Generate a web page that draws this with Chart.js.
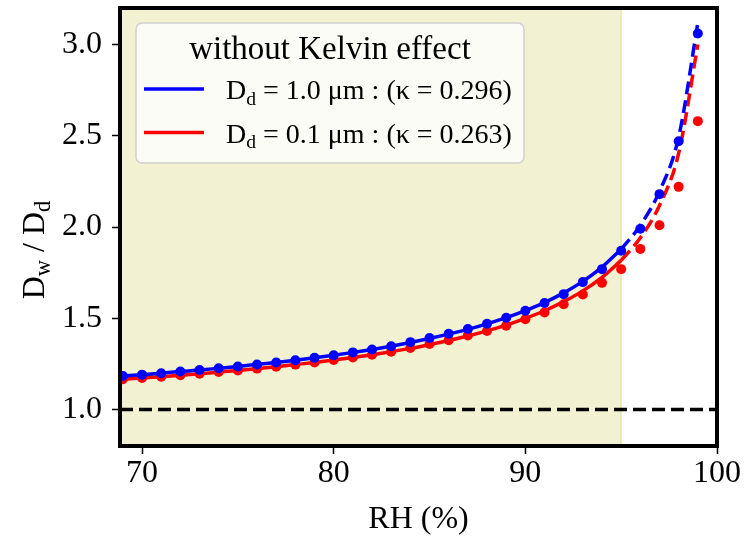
<!DOCTYPE html>
<html>
<head>
<meta charset="utf-8">
<script src="https://cdn.jsdelivr.net/npm/chart.js@4.4.1/dist/chart.umd.min.js"></script>
<style>
  html, body { margin: 0; padding: 0; background: #fff; }
  #wrap { width: 746px; height: 543px; }
</style>
</head>
<body>
<div id="wrap"><canvas id="chart" width="746" height="543"></canvas></div>
<script>
// relative humidity (%)
const rh = [69, 70, 71, 72, 73, 74, 75, 76, 77, 78, 79, 80, 81, 82, 83, 84,
            85, 86, 87, 88, 89, 90, 91, 92, 93, 94, 95, 96, 97, 98, 99];

// Dd = 1.0 um, kappa = 0.296 : curve and dots
const blueCurve = [1.184, 1.191, 1.199, 1.208, 1.216, 1.226, 1.236, 1.247, 1.258, 1.270, 1.283,
                   1.297, 1.313, 1.329, 1.347, 1.367, 1.389, 1.413, 1.439, 1.469, 1.503, 1.542,
                   1.586, 1.639, 1.702, 1.780, 1.878, 2.009, 2.195, 2.493, 3.118];
const blueDots  = [1.184, 1.191, 1.199, 1.208, 1.216, 1.226, 1.236, 1.247, 1.258, 1.270, 1.283,
                   1.297, 1.313, 1.329, 1.347, 1.369, 1.392, 1.415, 1.441, 1.470, 1.503, 1.541,
                   1.584, 1.632, 1.698, 1.769, 1.870, 1.990, 2.180, 2.470, 3.060];

// Dd = 0.1 um, kappa = 0.263
const redCurve = [1.166, 1.173, 1.180, 1.188, 1.196, 1.205, 1.214, 1.224, 1.234, 1.246, 1.258,
                  1.271, 1.285, 1.300, 1.317, 1.335, 1.355, 1.378, 1.403, 1.431, 1.462, 1.499,
                  1.541, 1.591, 1.650, 1.724, 1.817, 1.941, 2.118, 2.404, 3.000];
const redDots  = [1.166, 1.173, 1.180, 1.188, 1.196, 1.205, 1.214, 1.224, 1.234, 1.246, 1.258,
                  1.271, 1.285, 1.300, 1.317, 1.337, 1.359, 1.380, 1.405, 1.430, 1.459, 1.495,
                  1.532, 1.577, 1.630, 1.694, 1.769, 1.880, 2.010, 2.220, 2.580];

const xTicks = [70, 80, 90, 100];
const yTicks = [1.0, 1.5, 2.0, 2.5, 3.0];
const xMin = 68.85, xMax = 100;
const yMin = 0.8, yMax = 3.2;
const shadeEnd = 95;      // shaded RH band ends here
const refRatio = 1.0;     // Dw/Dd = 1 reference line

const legendTitle = 'without Kelvin effect';
const legendRows = [
  { main: 'D', sub: 'd', rest: ' = 1.0 \u03bcm : (\u03ba = 0.296)', color: '#0000ff' },
  { main: 'D', sub: 'd', rest: ' = 0.1 \u03bcm : (\u03ba = 0.263)', color: '#ff0000' }
];

const FONT = "'Liberation Serif', 'Times New Roman', serif";
const BLUE = '#0000ff', RED = '#ff0000';
const TICK_SIZE = 32;

const toXY = (xs, ys) => xs.map((v, i) => ({ x: v, y: ys[i] }));
const cut = rh.indexOf(shadeEnd);

// draw text with subscripts: parts = [[text, isSub], ...]
function drawRich(ctx, parts, x, y, size) {
  let cx = x;
  parts.forEach(([t, sub]) => {
    ctx.font = (sub ? size * 0.7 : size) + 'px ' + FONT;
    ctx.fillText(t, cx, sub ? y + size * 0.2 : y);
    cx += ctx.measureText(t).width;
  });
  return cx - x;
}
function richWidth(ctx, parts, size) {
  let w = 0;
  parts.forEach(([t, sub]) => {
    ctx.font = (sub ? size * 0.7 : size) + 'px ' + FONT;
    w += ctx.measureText(t).width;
  });
  return w;
}

const decor = {
  id: 'decor',
  beforeDatasetsDraw(chart) {
    const { ctx, chartArea: a, scales: { x } } = chart;
    const xe = x.getPixelForValue(shadeEnd);
    ctx.save();
    ctx.fillStyle = 'rgba(188,189,34,0.2)';
    ctx.fillRect(a.left, a.top, xe - a.left, a.bottom - a.top);
    ctx.strokeStyle = 'rgba(188,189,34,0.3)';
    ctx.lineWidth = 1.5;
    ctx.beginPath();
    ctx.moveTo(xe, a.top);
    ctx.lineTo(xe, a.bottom);
    ctx.stroke();
    ctx.restore();
  },
  afterDraw(chart) {
    const { ctx, chartArea: a } = chart;
    ctx.save();

    // legend box
    const bx = 136, by = 23, bw = 388, bh = 140, r = 6;
    ctx.beginPath();
    ctx.roundRect(bx, by, bw, bh, r);
    ctx.fillStyle = 'rgba(255,255,255,0.8)';
    ctx.fill();
    ctx.strokeStyle = '#d0d0d0';
    ctx.lineWidth = 1.5;
    ctx.stroke();

    ctx.fillStyle = '#000';
    ctx.textBaseline = 'alphabetic';
    ctx.textAlign = 'center';
    ctx.font = '33px ' + FONT;
    ctx.fillText(legendTitle, bx + bw / 2, 59);

    ctx.textAlign = 'left';
    legendRows.forEach((row, i) => {
      const ly = 89 + i * 43.5;
      ctx.strokeStyle = row.color;
      ctx.lineWidth = 3.5;
      ctx.beginPath();
      ctx.moveTo(144, ly);
      ctx.lineTo(204, ly);
      ctx.stroke();
      ctx.fillStyle = '#000';
      drawRich(ctx, [[row.main, false], [row.sub, true], [row.rest, false]], 226, ly + 10, 28);
    });

    // y axis title
    const yParts = [['D', false], ['w', true], [' / D', false], ['d', true]];
    ctx.translate(44, 250);
    ctx.rotate(-Math.PI / 2);
    const w = richWidth(ctx, yParts, TICK_SIZE);
    drawRich(ctx, yParts, -w / 2, 0, TICK_SIZE);
    ctx.restore();

    // frame
    ctx.save();
    ctx.strokeStyle = '#000';
    ctx.lineWidth = 4;
    ctx.strokeRect(a.left, a.top, a.right - a.left, a.bottom - a.top);
    ctx.restore();
  }
};

const lineStyle = { pointRadius: 0, borderWidth: 3.5, cubicInterpolationMode: 'monotone', fill: false };
const dotStyle = { showLine: false, pointRadius: 5, pointHoverRadius: 5, borderWidth: 0 };
const tickGrid = { drawOnChartArea: false, drawTicks: true, tickLength: 8, tickColor: '#000', tickWidth: 1.5 };

new Chart(document.getElementById('chart'), {
  type: 'line',
  data: {
    datasets: [
      { data: [{ x: xMin, y: refRatio }, { x: xMax, y: refRatio }], borderColor: '#000',
        borderDash: [13, 6], borderWidth: 3.5, pointRadius: 0 },
      { data: toXY(rh.slice(0, cut + 1), blueCurve.slice(0, cut + 1)), borderColor: BLUE, ...lineStyle },
      { data: toXY(rh.slice(cut), blueCurve.slice(cut)), borderColor: BLUE, borderDash: [13, 6], ...lineStyle },
      { data: toXY(rh, blueDots), backgroundColor: BLUE, borderColor: BLUE, ...dotStyle },
      { data: toXY(rh.slice(0, cut + 1), redCurve.slice(0, cut + 1)), borderColor: RED, ...lineStyle },
      { data: toXY(rh.slice(cut), redCurve.slice(cut)), borderColor: RED, borderDash: [13, 6], ...lineStyle },
      { data: toXY(rh, redDots), backgroundColor: RED, borderColor: RED, ...dotStyle }
    ]
  },
  options: {
    responsive: false,
    animation: false,
    layout: { padding: { top: 8, right: 29, left: 0, bottom: 0 } },
    plugins: { legend: { display: false }, tooltip: { enabled: false } },
    scales: {
      x: {
        type: 'linear', min: xMin, max: xMax,
        afterFit: s => { s.height = 97; s.paddingLeft = 0; s.paddingRight = 0; },
        afterBuildTicks: s => { s.ticks = xTicks.map(v => ({ value: v })); },
        border: { display: false },
        grid: tickGrid,
        ticks: { color: '#000', font: { family: FONT, size: TICK_SIZE }, padding: 0, maxRotation: 0 },
        title: { display: true, text: 'RH (%)', color: '#000', font: { family: FONT, size: TICK_SIZE },
                 padding: { bottom: 4, top: 0 } }
      },
      y: {
        min: yMin, max: yMax,
        afterFit: s => { s.width = 120; s.paddingTop = 0; s.paddingBottom = 0; },
        afterBuildTicks: s => { s.ticks = yTicks.map(v => ({ value: v })); },
        border: { display: false },
        grid: tickGrid,
        ticks: { color: '#000', font: { family: FONT, size: TICK_SIZE }, padding: 10,
                 callback: v => v.toFixed(1) }
      }
    }
  },
  plugins: [decor]
});
</script>
</body>
</html>
